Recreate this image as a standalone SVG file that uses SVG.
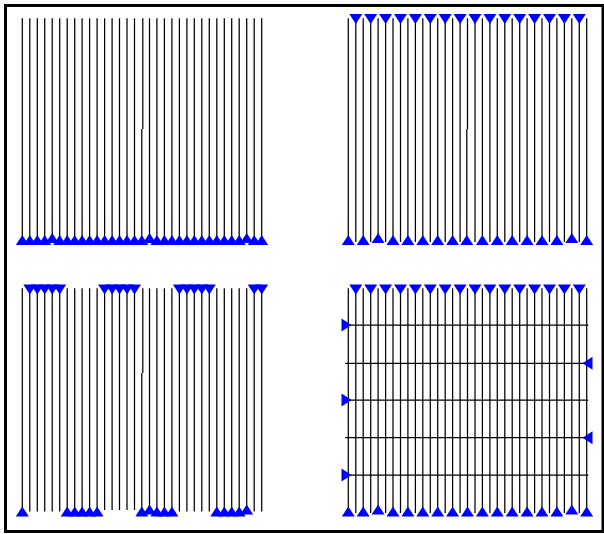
<svg xmlns="http://www.w3.org/2000/svg" width="604" height="534" viewBox="0 0 604 534">
<style>
.c line,.c path{stroke:#000;stroke-width:1.25;fill:none;marker-start:url(#tri)}
</style>
<defs>
<marker id="tri" markerUnits="userSpaceOnUse" viewBox="-6.5 -7 13 14" markerWidth="13" markerHeight="14" refX="0" refY="0" orient="auto">
<path d="M-5,-6.5 L5,0 L-5,6.5 Z" fill="#0000ff"/>
</marker>
</defs>
<rect x="0" y="0" width="604" height="534" fill="#fff"/>
<rect id="frame" x="5.5" y="5.5" width="597.5" height="526" fill="none" stroke="#000" stroke-width="3"/>
<g id="q1"><g class="c">
<line x1="22.3" y1="240" x2="22.3" y2="18.3"/>
<line x1="29.8" y1="240" x2="29.8" y2="18.3"/>
<line x1="37.3" y1="240" x2="37.3" y2="18.3"/>
<line x1="44.7" y1="240" x2="44.7" y2="18.3"/>
<line x1="52.2" y1="238" x2="52.2" y2="18.3"/>
<line x1="59.7" y1="240" x2="59.7" y2="18.3"/>
<line x1="67.2" y1="240" x2="67.2" y2="18.3"/>
<line x1="74.7" y1="240" x2="74.7" y2="18.3"/>
<line x1="82.1" y1="240" x2="82.1" y2="18.3"/>
<line x1="89.6" y1="240" x2="89.6" y2="18.3"/>
<line x1="97.1" y1="240" x2="97.1" y2="18.3"/>
<line x1="104.6" y1="240" x2="104.6" y2="18.3"/>
<line x1="112.1" y1="240" x2="112.1" y2="18.3"/>
<line x1="119.5" y1="240" x2="119.5" y2="18.3"/>
<line x1="127" y1="240" x2="127" y2="18.3"/>
<line x1="134.5" y1="240" x2="134.5" y2="18.3"/>
<path d="M141.8 240 V129 M142.8 129 V18.3"/>
<line x1="149.5" y1="238" x2="149.5" y2="18.3"/>
<line x1="156.9" y1="240" x2="156.9" y2="18.3"/>
<line x1="164.4" y1="240" x2="164.4" y2="18.3"/>
<line x1="171.9" y1="240" x2="171.9" y2="18.3"/>
<line x1="179.4" y1="240" x2="179.4" y2="18.3"/>
<line x1="186.9" y1="240" x2="186.9" y2="18.3"/>
<line x1="194.3" y1="240" x2="194.3" y2="18.3"/>
<line x1="201.8" y1="240" x2="201.8" y2="18.3"/>
<line x1="209.3" y1="240" x2="209.3" y2="18.3"/>
<line x1="216.8" y1="240" x2="216.8" y2="18.3"/>
<line x1="224.3" y1="240" x2="224.3" y2="18.3"/>
<line x1="231.7" y1="240" x2="231.7" y2="18.3"/>
<line x1="239.2" y1="240" x2="239.2" y2="18.3"/>
<line x1="246.7" y1="238" x2="246.7" y2="18.3"/>
<line x1="254.2" y1="240" x2="254.2" y2="18.3"/>
<line x1="261.7" y1="240" x2="261.7" y2="18.3"/>
</g></g>
<g id="q2"><g class="c">
<line x1="348.3" y1="240" x2="348.3" y2="18.3"/>
<line x1="355.8" y1="19" x2="355.8" y2="242"/>
<line x1="363.2" y1="240" x2="363.2" y2="18.3"/>
<line x1="370.7" y1="19" x2="370.7" y2="242"/>
<line x1="378.1" y1="238" x2="378.1" y2="18.3"/>
<line x1="385.6" y1="19" x2="385.6" y2="242"/>
<line x1="393" y1="240" x2="393" y2="18.3"/>
<line x1="400.5" y1="19" x2="400.5" y2="242"/>
<line x1="407.9" y1="240" x2="407.9" y2="18.3"/>
<line x1="415.4" y1="19" x2="415.4" y2="242"/>
<line x1="422.8" y1="240" x2="422.8" y2="18.3"/>
<line x1="430.3" y1="19" x2="430.3" y2="242"/>
<line x1="437.7" y1="240" x2="437.7" y2="18.3"/>
<line x1="445.2" y1="19" x2="445.2" y2="242"/>
<line x1="452.6" y1="240" x2="452.6" y2="18.3"/>
<line x1="460.1" y1="19" x2="460.1" y2="242"/>
<path d="M466.8 240 V129.3 M467.5 129.3 V18.3"/>
<line x1="475" y1="19" x2="475" y2="242"/>
<line x1="482.4" y1="240" x2="482.4" y2="18.3"/>
<line x1="489.9" y1="19" x2="489.9" y2="242"/>
<line x1="497.3" y1="240" x2="497.3" y2="18.3"/>
<line x1="504.8" y1="19" x2="504.8" y2="242"/>
<line x1="512.2" y1="240" x2="512.2" y2="18.3"/>
<line x1="519.7" y1="19" x2="519.7" y2="242"/>
<line x1="527.1" y1="240" x2="527.1" y2="18.3"/>
<line x1="534.6" y1="19" x2="534.6" y2="242"/>
<line x1="542" y1="240" x2="542" y2="18.3"/>
<line x1="549.5" y1="19" x2="549.5" y2="242"/>
<line x1="556.9" y1="240" x2="556.9" y2="18.3"/>
<line x1="564.4" y1="19" x2="564.4" y2="242"/>
<line x1="571.8" y1="238" x2="571.8" y2="18.3"/>
<line x1="579.3" y1="19" x2="579.3" y2="242"/>
<line x1="586.7" y1="240" x2="586.7" y2="18.3"/>
</g></g>
<g id="q3"><g class="c">
<line x1="22.3" y1="511.5" x2="22.3" y2="288.3"/>
<line x1="29.8" y1="289.5" x2="29.8" y2="511.5"/>
<line x1="37.3" y1="289.5" x2="37.3" y2="511.5"/>
<line x1="44.7" y1="289.5" x2="44.7" y2="511.5"/>
<line x1="52.2" y1="289.5" x2="52.2" y2="511.5"/>
<line x1="59.7" y1="289.5" x2="59.7" y2="511.5"/>
<line x1="67.2" y1="511.5" x2="67.2" y2="288.3"/>
<line x1="74.7" y1="511.5" x2="74.7" y2="288.3"/>
<line x1="82.1" y1="511.5" x2="82.1" y2="288.3"/>
<line x1="89.6" y1="511.5" x2="89.6" y2="288.3"/>
<line x1="97.1" y1="511.5" x2="97.1" y2="288.3"/>
<line x1="104.6" y1="289.5" x2="104.6" y2="510"/>
<line x1="112.1" y1="289.5" x2="112.1" y2="510"/>
<line x1="119.5" y1="289.5" x2="119.5" y2="510"/>
<line x1="127" y1="289.5" x2="127" y2="510"/>
<line x1="134.5" y1="289.5" x2="134.5" y2="510"/>
<path d="M141.8 511.5 V373 M142.8 373 V288.3"/>
<line x1="149.5" y1="509.5" x2="149.5" y2="288.3"/>
<line x1="156.9" y1="511.5" x2="156.9" y2="288.3"/>
<line x1="164.4" y1="511.5" x2="164.4" y2="288.3"/>
<line x1="171.9" y1="511.5" x2="171.9" y2="288.3"/>
<line x1="179.4" y1="289.5" x2="179.4" y2="511.5"/>
<line x1="186.9" y1="289.5" x2="186.9" y2="511.5"/>
<line x1="194.3" y1="289.5" x2="194.3" y2="511.5"/>
<line x1="201.8" y1="289.5" x2="201.8" y2="511.5"/>
<line x1="209.3" y1="289.5" x2="209.3" y2="511.5"/>
<line x1="216.8" y1="511.5" x2="216.8" y2="288.3"/>
<line x1="224.3" y1="511.5" x2="224.3" y2="288.3"/>
<line x1="231.7" y1="511.5" x2="231.7" y2="288.3"/>
<line x1="239.2" y1="511.5" x2="239.2" y2="288.3"/>
<line x1="246.7" y1="509.5" x2="246.7" y2="288.3"/>
<line x1="254.2" y1="289.5" x2="254.2" y2="511.5"/>
<line x1="261.7" y1="289.5" x2="261.7" y2="511.5"/>
</g></g>
<g id="q4"><g class="c">
<line x1="348.3" y1="511.5" x2="348.3" y2="288.3"/>
<line x1="355.8" y1="289.5" x2="355.8" y2="513"/>
<line x1="363.2" y1="511.5" x2="363.2" y2="288.3"/>
<line x1="370.7" y1="289.5" x2="370.7" y2="513"/>
<line x1="378.1" y1="509.5" x2="378.1" y2="288.3"/>
<line x1="385.6" y1="289.5" x2="385.6" y2="513"/>
<line x1="393" y1="511.5" x2="393" y2="288.3"/>
<line x1="400.5" y1="289.5" x2="400.5" y2="513"/>
<line x1="407.9" y1="511.5" x2="407.9" y2="288.3"/>
<line x1="415.4" y1="289.5" x2="415.4" y2="513"/>
<line x1="422.8" y1="511.5" x2="422.8" y2="288.3"/>
<line x1="430.3" y1="289.5" x2="430.3" y2="513"/>
<line x1="437.7" y1="511.5" x2="437.7" y2="288.3"/>
<line x1="445.2" y1="289.5" x2="445.2" y2="513"/>
<line x1="452.6" y1="511.5" x2="452.6" y2="288.3"/>
<line x1="460.1" y1="289.5" x2="460.1" y2="513"/>
<line x1="467.5" y1="511.5" x2="467.5" y2="288.3"/>
<line x1="475" y1="289.5" x2="475" y2="513"/>
<line x1="482.4" y1="511.5" x2="482.4" y2="288.3"/>
<line x1="489.9" y1="289.5" x2="489.9" y2="513"/>
<line x1="497.3" y1="511.5" x2="497.3" y2="288.3"/>
<line x1="504.8" y1="289.5" x2="504.8" y2="513"/>
<line x1="512.2" y1="511.5" x2="512.2" y2="288.3"/>
<line x1="519.7" y1="289.5" x2="519.7" y2="513"/>
<line x1="527.1" y1="511.5" x2="527.1" y2="288.3"/>
<line x1="534.6" y1="289.5" x2="534.6" y2="513"/>
<line x1="542" y1="511.5" x2="542" y2="288.3"/>
<line x1="549.5" y1="289.5" x2="549.5" y2="513"/>
<line x1="556.9" y1="511.5" x2="556.9" y2="288.3"/>
<line x1="564.4" y1="289.5" x2="564.4" y2="513"/>
<line x1="571.8" y1="509.5" x2="571.8" y2="288.3"/>
<line x1="579.3" y1="289.5" x2="579.3" y2="513"/>
<line x1="586.7" y1="511.5" x2="586.7" y2="288.3"/>
<line x1="346.5" y1="325" x2="588.3" y2="325"/>
<line x1="587.5" y1="363.3" x2="345.3" y2="363.3"/>
<line x1="346.5" y1="400" x2="588.3" y2="400"/>
<line x1="587.5" y1="437.7" x2="345.3" y2="437.7"/>
<line x1="346.5" y1="475" x2="588.3" y2="475"/>
</g></g>
</svg>
